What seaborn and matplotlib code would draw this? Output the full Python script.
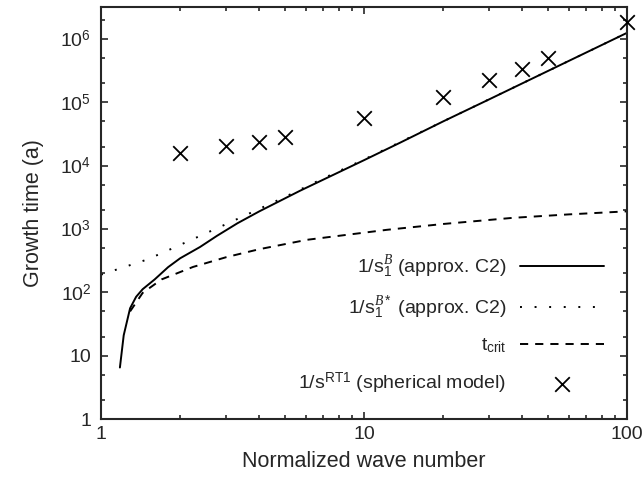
import numpy as np
import pandas as pd
import seaborn as sns
import matplotlib.pyplot as plt
from matplotlib.ticker import FuncFormatter, LogLocator, NullFormatter, FixedLocator

# values
k_sb = [1.18, 1.22, 1.29, 1.36, 1.44, 1.6, 1.8, 2.0, 2.38, 2.76, 3.3, 4.0, 5.7, 10, 13.7, 20, 30, 50, 100]
t_sb = [6.5, 21, 56, 85, 112, 160, 250, 345, 520, 780, 1230, 1900, 4000, 12200, 23000, 50000, 112000, 312000, 1250000]

k_sbstar = [1.0, 1.5, 1.88, 3.0, 3.92, 5.0, 7.0, 10, 20, 50, 100]
t_sbstar = [190, 330, 500, 1200, 2000, 3200, 6300, 12500, 50000, 312000, 1250000]

k_crit = [1.29, 1.44, 1.7, 2.24, 3.0, 4.0, 6.07, 12.2, 20, 36.8, 60, 100]
t_crit = [50, 98, 160, 252, 360, 480, 675, 970, 1200, 1500, 1700, 1900]

k_rt = [2, 3, 4, 5, 10, 20, 30, 40, 50, 100]
t_rt = [15800, 20500, 23800, 28400, 57000, 123000, 228000, 340000, 500000, 1860000]

y_ticks = [1, 10, 1e2, 1e3, 1e4, 1e5, 1e6]
x_ticks = [1, 10, 100]

labels = [r"1/s$_1^{\mathit{B}}$ (approx. C2)",
          r"1/s$_1^{\mathit{B*}}$ (approx. C2)",
          r"t$_{\rm crit}$",
          r"1/s$^{\rm RT1}$ (spherical model)"]

sns.set_style("ticks")
plt.rcParams["font.family"] = ["Liberation Sans", "DejaVu Sans"]
plt.rcParams["mathtext.fontset"] = "custom"
plt.rcParams["mathtext.rm"] = "Liberation Sans"
plt.rcParams["mathtext.it"] = "Liberation Serif:italic"
plt.rcParams["mathtext.bf"] = "Liberation Sans:bold"

fig, ax = plt.subplots(figsize=(6.44, 4.83), dpi=100)
fig.subplots_adjust(left=101/644, right=627/644, top=1-7/483, bottom=1-419/483)

lw = 1.4
sns.lineplot(x=k_sb, y=t_sb, ax=ax, color="black", lw=lw, estimator=None, sort=False, label=labels[0])
sns.lineplot(x=k_sbstar, y=t_sbstar, ax=ax, color="black", lw=lw, estimator=None, sort=False,
             label=labels[1], linestyle=(0, (1, 6.5)))
sns.lineplot(x=k_crit, y=t_crit, ax=ax, color="black", lw=lw, estimator=None, sort=False,
             label=labels[2], linestyle=(0, (4.2, 3.6)))
sns.scatterplot(x=k_rt, y=t_rt, ax=ax, color="black", marker="x", s=110, linewidth=1.3,
                label=labels[3], clip_on=False, zorder=5)

ax.set_xscale("log")
ax.set_yscale("log")
ax.set_xlim(1, 100)
ax.set_ylim(1, 3.2e6)

def yfmt(v, pos):
    n = int(round(np.log10(v)))
    if n == 0:
        return "1"
    if n == 1:
        return "10"
    return r"10$^{%d}$" % n

ax.yaxis.set_major_locator(FixedLocator(y_ticks))
ax.yaxis.set_major_formatter(FuncFormatter(yfmt))
ax.yaxis.set_minor_locator(LogLocator(base=10, subs=(2, 5), numticks=20))
ax.yaxis.set_minor_formatter(NullFormatter())
ax.xaxis.set_major_locator(FixedLocator(x_ticks))
ax.xaxis.set_major_formatter(FuncFormatter(lambda v, p: "%d" % round(v)))
ax.xaxis.set_minor_formatter(NullFormatter())

ax.tick_params(which="both", direction="in", top=True, right=True, labelsize=14, width=1.2)
ax.tick_params(axis="x", which="major", length=5, pad=5)
ax.tick_params(axis="y", which="major", length=5, pad=7)
ax.tick_params(which="minor", length=3)
for s in ax.spines.values():
    s.set_linewidth(1.5)

ax.set_xlabel("Normalized wave number", fontsize=15.5, labelpad=6)
ax.set_ylabel("Growth time (a)", fontsize=15.5, labelpad=12)

leg = ax.legend(loc="lower right", frameon=False, markerfirst=False, fontsize=14,
                handlelength=4.3, handletextpad=0.7, labelspacing=0.78,
                borderaxespad=0.8, scatterpoints=1)

fig.savefig("out.png", dpi=100)
